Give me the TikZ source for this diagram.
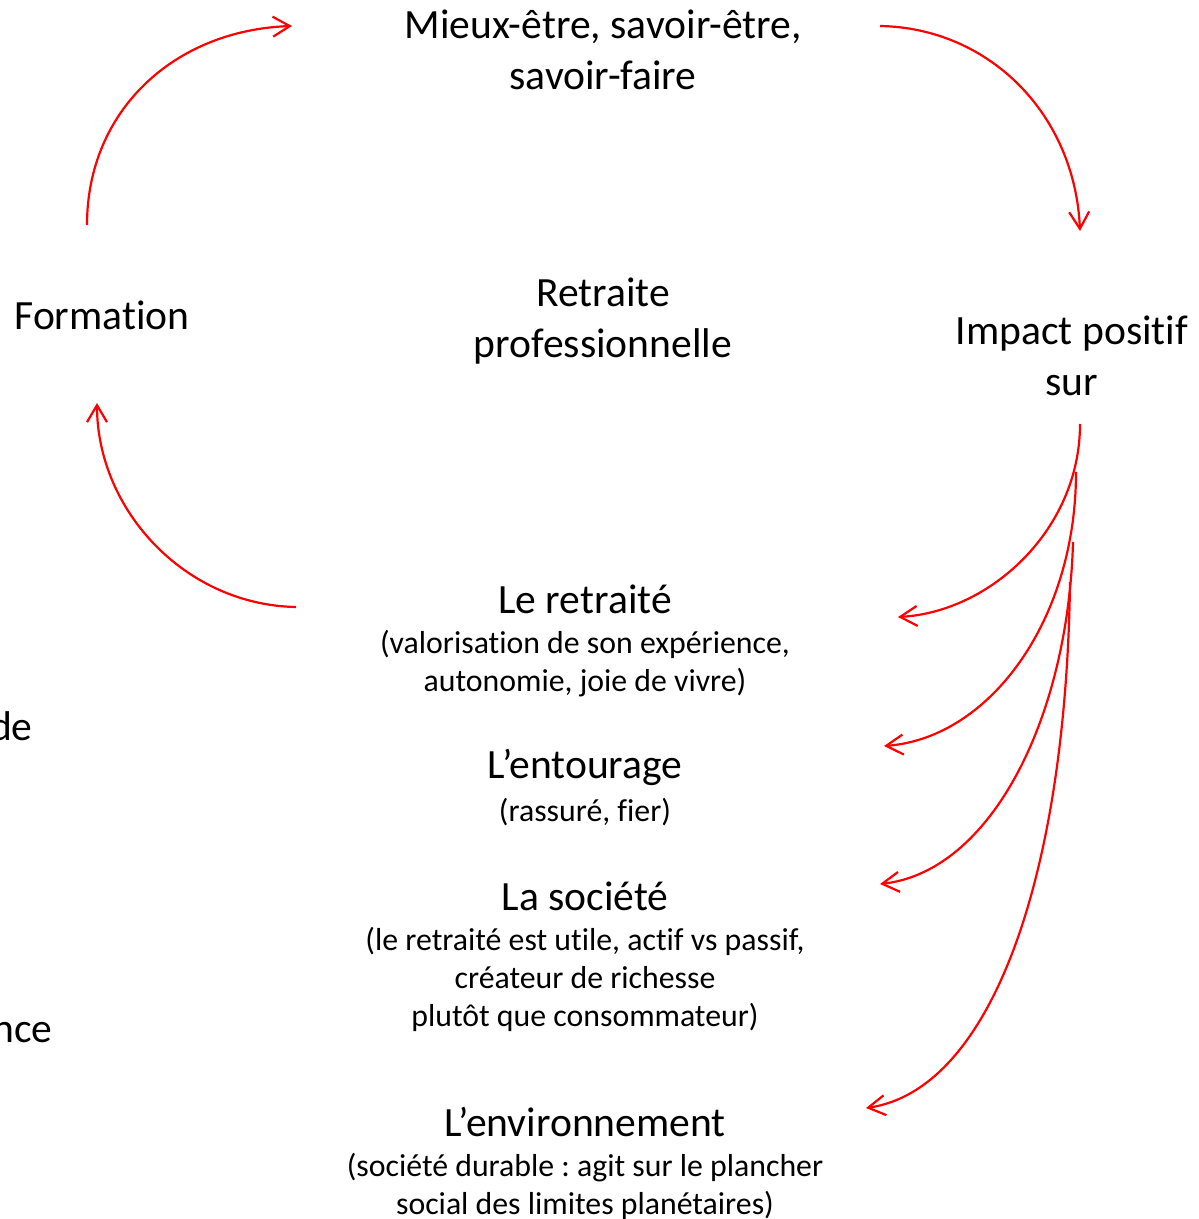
\documentclass[tikz,border=0pt]{standalone}
\usepackage{fontspec}
\setmainfont{Carlito}[Ligatures=NoCommon]
\usetikzlibrary{arrows.meta}
\frenchspacing
\begin{document}
\begin{tikzpicture}[x=0.5pt,y=-0.5pt,
  big/.style={font=\fontsize{20.8}{25.3}\selectfont\frenchspacing,align=center,inner sep=0pt},
  small/.style={font=\fontsize{15.9}{19}\selectfont\frenchspacing,align=center,inner sep=0pt},
  link/.style={draw=red,line width=1.1pt,-{Straight Barb[length=8.5pt,width=10pt,line width=1.1pt]}}]
\useasboundingbox (0,0) rectangle (1198,1219);
% texts
\node[big] (mieux) at (603,50) {Mieux-être, savoir-être,\\savoir-faire};
\node[big] (formation) at (102,315) {Formation};
\node[big] (retraite) at (603,321) {Retraite\\professionnelle};
\node[big] (impact) at (1072,356) {Impact positif\\sur};
\node[big] (retraite1) at (585,599) {Le retraité};
\node[small] (retraite2) at (585,664) {(valorisation de son expérience,\\autonomie, joie de vivre)};
\node[big] (entourage1) at (585,767) {L’entourage};
\node[small] (entourage2) at (585,812) {(rassuré, fier)};
\node[big] (societe1) at (585,896) {La société};
\node[small] (societe2) at (585,979) {(le retraité est utile, actif vs passif,\\créateur de richesse\\plutôt que consommateur)};
\node[big] (env1) at (585,1122) {L’environnement};
\node[small] (env2) at (585,1186) {(société durable : agit sur le plancher\\social des limites planétaires)};
\node[big,anchor=east] (de) at (33,726) {de};
\node[big,anchor=east] (nce) at (53,1033) {nce};
% connector end points
\coordinate (f1) at (87,225);
\coordinate (m1) at (292,26);
\coordinate (m2) at (880,26);
\coordinate (i1) at (1080,231);
\coordinate (r1) at (296,607);
\coordinate (f2) at (97,403);
\coordinate (ia) at (1080,424);
\coordinate (ib) at (1076,472);
\coordinate (ic) at (1073,542);
\coordinate (id) at (1070,582);
\coordinate (ta) at (898,617);
\coordinate (tb) at (884,746);
\coordinate (tc) at (880,884);
\coordinate (td) at (866,1108);
% connectors
\draw[link] (f1) .. controls (87,110) and (175,30) .. (m1);
\draw[link] (m2) .. controls (990,28) and (1075,115) .. (i1);
\draw[link] (r1) .. controls (185,605) and (97,510) .. (f2);
\draw[link] (ia) .. controls (1080,530) and (990,612) .. (ta);
\draw[link] (ib) .. controls (1076,620) and (990,738) .. (tb);
\draw[link] (ic) .. controls (1068,720) and (990,872) .. (tc);
\draw[link] (id) .. controls (1066,880) and (990,1090) .. (td);
\end{tikzpicture}
\end{document}
